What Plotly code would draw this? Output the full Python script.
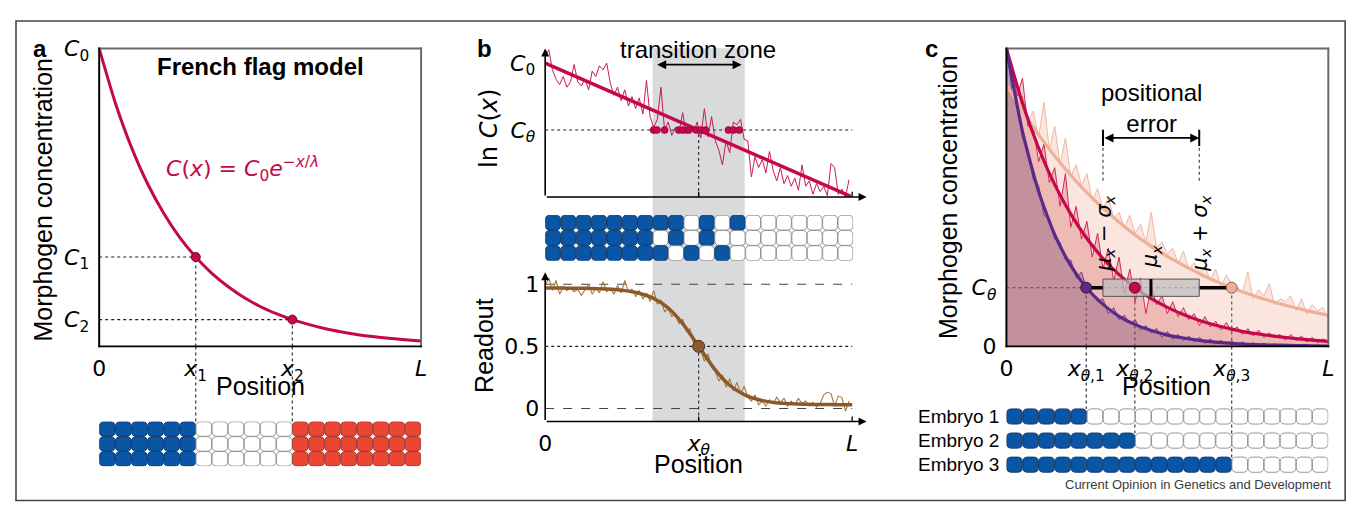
import numpy as np
import plotly.graph_objects as go

W, H = 1357, 516
SHIFT = 8.0   # the page body margin offsets the figure by 8 px; layout is expressed in screen px
TXT = 'Liberation Sans, Arial, Helvetica, sans-serif'
MATH = 'DejaVu Sans, sans-serif'
CRIMSON = '#c4084c'
BROWN = '#8c5a2a'
PURPLE = '#5b2a86'
BEIGE = '#edb098'

# ---------------- data ----------------
grid21 = [0.0, 0.05, 0.1, 0.15, 0.2, 0.25, 0.3, 0.35, 0.4, 0.45, 0.5,
          0.55, 0.6, 0.65, 0.7, 0.75, 0.8, 0.85, 0.9, 0.95, 1.0]

# Panel a : French flag model
a_concentration = [1.0, 0.818, 0.669, 0.547, 0.448, 0.366, 0.300, 0.245, 0.201, 0.164, 0.134,
                   0.110, 0.090, 0.074, 0.060, 0.049, 0.040, 0.033, 0.027, 0.022, 0.018]
a_threshold_x = [0.3, 0.6]
a_threshold_c = [0.30, 0.09]
a_xtick_vals = [0.0, 0.3, 0.6, 1.0]
a_xtick_text = ['0', '<i>x</i><sub>1</sub>', '<i>x</i><sub>2</sub>', '<i>L</i>']
a_ytick_vals = [1.0, 0.30, 0.09]
a_ytick_text = ['<i>C</i><sub>0</sub>', '<i>C</i><sub>1</sub>', '<i>C</i><sub>2</sub>']
a_cells = ['BBBBBBWWWWWWRRRRRRRR'] * 3

# Panel b : transition zone
b_fit_x = [0.0, 0.995]
b_fit_lnc = [1.0, 0.005]
b_noisy_lnc = [1.05, 1.10, 0.95, 0.88, 0.84, 0.90, 0.82, 0.86, 0.99, 0.86,
               0.83, 0.88, 0.80, 0.94, 0.90, 0.98, 0.95, 1.00, 0.85, 0.76,
               0.82, 0.72, 0.80, 0.68, 0.75, 0.66, 0.74, 0.62, 0.87, 0.60,
               0.52, 0.58, 0.82, 0.50, 0.56, 0.46, 0.52, 0.48, 0.63, 0.47,
               0.54, 0.48, 0.56, 0.44, 0.66, 0.45, 0.60, 0.42, 0.35, 0.24,
               0.42, 0.33, 0.56, 0.54, 0.58, 0.43, 0.42, 0.15, 0.30, 0.22,
               0.28, 0.18, 0.34, 0.20, 0.12, 0.22, 0.10, 0.16, 0.08, 0.14,
               0.05, 0.24, 0.08, 0.12, 0.02, 0.10, 0.04, 0.08, 0.01, 0.25,
               0.22, 0.02, 0.06, 0.00, 0.13]
b_crossings = [0.353, 0.364, 0.389, 0.435, 0.449, 0.468, 0.493, 0.507, 0.522, 0.597, 0.613, 0.632]
b_c_theta = 0.5
b_x_theta = 0.5
b_zone = [0.35, 0.65]
b_ytick_vals = [1.0, 0.5]
b_ytick_text = ['<i>C</i><sub>0</sub>', '<i>C</i><sub><i>θ</i></sub>']
b_cells = ['BBBBBBBBBWBWBWWWWWWW',
           'BBBBBBBWBWBWWWWWWWWW',
           'BBBBBBBBWBWBWWWWWWWW']
b_readout_fit = [0.970, 0.969, 0.968, 0.966, 0.962, 0.952, 0.932, 0.890, 0.811, 0.677, 0.500,
                 0.323, 0.189, 0.110, 0.068, 0.047, 0.038, 0.034, 0.032, 0.031, 0.030]
b_readout_noisy = [0.99, 1.05, 0.95, 1.03, 0.92, 0.98, 0.95, 0.97, 0.94, 0.96,
                   0.91, 0.95, 1.00, 0.92, 0.97, 0.93, 1.02, 0.94, 0.97, 0.92,
                   0.99, 0.93, 1.03, 0.94, 0.96, 0.90, 0.95, 0.88, 0.93, 0.86,
                   0.95, 0.84, 0.87, 0.78, 0.80, 0.74, 0.76, 0.68, 0.72, 0.62,
                   0.64, 0.53, 0.52, 0.47, 0.38, 0.44, 0.33, 0.30, 0.22, 0.27,
                   0.17, 0.24, 0.14, 0.21, 0.12, 0.18, 0.09, 0.06, 0.11, 0.03,
                   0.06, 0.02, 0.07, 0.04, 0.09, 0.05, 0.08, 0.02, 0.06, 0.03,
                   0.08, 0.04, 0.06, 0.02, 0.05, 0.01, 0.04, 0.11, 0.13, 0.12,
                   0.02, 0.10, 0.09, -0.02, 0.06]
b_readout_ticks = [0.0, 0.5, 1.0]
b_readout_ticktext = ['0', '0.5', '1']
b_xtick_vals = [0.0, 0.5, 1.0]
b_xtick_text = ['0', '<i>x</i><sub><i>θ</i></sub>', '<i>L</i>']

# Panel c : positional error
c_fit_purple = [1.0, 0.721, 0.520, 0.375, 0.271, 0.195, 0.141, 0.101, 0.073, 0.053, 0.038,
                0.028, 0.020, 0.014, 0.010, 0.007, 0.005, 0.004, 0.003, 0.002, 0.001]
c_fit_red = [1.0, 0.816, 0.666, 0.543, 0.444, 0.362, 0.295, 0.241, 0.197, 0.160, 0.131,
             0.107, 0.087, 0.071, 0.058, 0.047, 0.039, 0.032, 0.026, 0.021, 0.017]
c_fit_beige = [0.880, 0.791, 0.711, 0.639, 0.574, 0.516, 0.464, 0.417, 0.374, 0.336, 0.302,
               0.272, 0.244, 0.219, 0.197, 0.177, 0.159, 0.143, 0.129, 0.116, 0.104]
c_noisy_purple = [1.02, 0.86, 0.83, 0.70, 0.66, 0.56, 0.54, 0.44, 0.43, 0.36,
                  0.35, 0.29, 0.29, 0.23, 0.25, 0.19, 0.18, 0.15, 0.16, 0.11,
                  0.13, 0.09, 0.105, 0.075, 0.09, 0.055, 0.07, 0.045, 0.06, 0.03,
                  0.05, 0.025, 0.04, 0.02, 0.035, 0.015, 0.03, 0.01, 0.025, 0.008,
                  0.02, 0.005, 0.018, 0.004, 0.015, 0.003, 0.012, 0.002, 0.01, 0.002,
                  0.008, 0.001, 0.007, 0.001, 0.006, 0.0, 0.005, 0.0, 0.004, 0.0, 0.003]
c_noisy_red = [1.0, 0.95, 0.84, 0.90, 0.74, 0.74, 0.62, 0.68, 0.55, 0.60,
               0.47, 0.58, 0.40, 0.47, 0.36, 0.42, 0.30, 0.38, 0.26, 0.33,
               0.22, 0.30, 0.18, 0.26, 0.15, 0.23, 0.11, 0.20, 0.14, 0.17,
               0.11, 0.15, 0.10, 0.13, 0.09, 0.11, 0.07, 0.10, 0.065, 0.085,
               0.055, 0.08, 0.05, 0.065, 0.04, 0.06, 0.035, 0.055, 0.03, 0.045,
               0.03, 0.04, 0.02, 0.04, 0.02, 0.035, 0.015, 0.03, 0.012, 0.025, 0.015]
c_noisy_beige = [0.84, 0.86, 0.79, 0.84, 0.76, 0.79, 0.70, 0.82, 0.66, 0.74,
                 0.61, 0.70, 0.57, 0.61, 0.54, 0.58, 0.49, 0.53, 0.46, 0.50,
                 0.43, 0.45, 0.40, 0.44, 0.38, 0.41, 0.35, 0.45, 0.33, 0.35,
                 0.31, 0.33, 0.28, 0.32, 0.26, 0.28, 0.25, 0.27, 0.22, 0.26,
                 0.20, 0.24, 0.21, 0.20, 0.18, 0.25, 0.16, 0.19, 0.17, 0.21,
                 0.14, 0.16, 0.15, 0.17, 0.12, 0.16, 0.11, 0.14, 0.12, 0.13, 0.09]
c_x_theta = [0.248, 0.399, 0.700]
c_c_theta = 0.197
c_q1, c_median, c_q3 = 0.300, 0.449, 0.599
c_embryo_blue = [5, 8, 14]
c_embryo_names = ['Embryo 1', 'Embryo 2', 'Embryo 3']
c_xtick_vals = [0.0, 0.248, 0.399, 0.700, 1.0]
c_xtick_text = ['0', '<i>x</i><sub><i>θ</i>,1</sub>', '<i>x</i><sub><i>θ</i>,2</sub>',
                '<i>x</i><sub><i>θ</i>,3</sub>', '<i>L</i>']
c_ytick_vals = [0.0, 0.197]
c_ytick_text = ['0', '<i>C</i><sub><i>θ</i></sub>']


# ---------------- layout helpers (screen px -> paper) ----------------
def px(p):
    return (p - SHIFT) / W


def py(p):
    return 1 - (p - SHIFT) / H


def xdom(l, r):
    return [px(l), px(r)]


def ydom(top, bot):
    return [py(bot), py(top)]


def rounded_rect(x0, x1, y0, y1, rx, ry):
    return (f"M {x0 + rx},{y0} L {x1 - rx},{y0} Q {x1},{y0} {x1},{y0 + ry} "
            f"L {x1},{y1 - ry} Q {x1},{y1} {x1 - rx},{y1} L {x0 + rx},{y1} "
            f"Q {x0},{y1} {x0},{y1 - ry} L {x0},{y0 + ry} Q {x0},{y0} {x0 + rx},{y0} Z")


CELL_STYLE = {'B': ('#0a56a5', '#103766'), 'W': ('#ffffff', '#8a8a8a'), 'R': ('#ee4433', '#8c3a30')}


def cell_shapes(rows, xref, yref, centers, h, rx, ry, w=0.97):
    out = []
    for row, yc in zip(rows, centers):
        for c, k in enumerate(row):
            fill, line = CELL_STYLE[k]
            x0, x1 = c + (1 - w) / 2, c + 1 - (1 - w) / 2
            y0, y1 = yc - h / 2, yc + h / 2
            out.append(dict(type='path', xref=xref, yref=yref,
                            path=rounded_rect(x0, x1, y0, y1, rx, ry),
                            fillcolor=fill, line=dict(color=line, width=0.9), layer='above'))
    return out


def seg(x0, y0, x1, y1, xref, yref, color='#222', width=1.1, dash='dot', layer='above'):
    return dict(type='line', x0=x0, y0=y0, x1=x1, y1=y1, xref=xref, yref=yref,
                line=dict(color=color, width=width, dash=dash), layer=layer)


def bar(l, t, r, b, color):
    """A thin filled rectangle in screen px (used for the panel frames)."""
    return dict(type='rect', xref='paper', yref='paper', x0=px(l), x1=px(r), y0=py(b), y1=py(t),
                fillcolor=color, line=dict(width=0), layer='above')


# screen-pixel geometry
A_X = (93.0, 418.0); A_Y = (38.0, 351.0); A_CELLS_Y = (430.0, 477.0)
B_X = (543.3, 870.0); B_LN_Y = (36.0, 194.0); B_CELLS_X = (543.3, 854.3)
B_CELLS_Y = (213.0, 261.0); B_RO_Y = (271.0, 430.0)
C_X = (1009.0, 1334.0); C_Y = (38.0, 351.0); C_CELLS_Y = (412.0, 488.0)
C_ROW_TOPS = [416.7, 442.3, 467.7]

fig = go.Figure()

# ---------------- traces: panel a ----------------
fig.add_trace(go.Scatter(x=grid21, y=a_concentration, mode='lines',
                         line=dict(color=CRIMSON, width=3, shape='spline', smoothing=0.6),
                         xaxis='x', yaxis='y', hoverinfo='skip', cliponaxis=False))
fig.add_trace(go.Scatter(x=a_threshold_x, y=a_threshold_c, mode='markers',
                         marker=dict(size=9, color=CRIMSON, line=dict(color='#7a0030', width=1)),
                         xaxis='x', yaxis='y', hoverinfo='skip'))

# ---------------- traces: panel b ----------------
bx_noisy = np.linspace(0, 0.99, len(b_noisy_lnc))
fig.add_trace(go.Scatter(x=bx_noisy, y=b_noisy_lnc, mode='lines',
                         line=dict(color='#c81a55', width=1), xaxis='x3', yaxis='y3', hoverinfo='skip'))
fig.add_trace(go.Scatter(x=b_fit_x, y=b_fit_lnc, mode='lines',
                         line=dict(color=CRIMSON, width=3.5), xaxis='x3', yaxis='y3', hoverinfo='skip'))
fig.add_trace(go.Scatter(x=b_crossings, y=[b_c_theta] * len(b_crossings), mode='markers',
                         marker=dict(size=7, color=CRIMSON, line=dict(color='#8a0034', width=0.6)),
                         xaxis='x3', yaxis='y3', hoverinfo='skip'))
rx_noisy = np.linspace(0, 0.99, len(b_readout_noisy))
fig.add_trace(go.Scatter(x=rx_noisy, y=b_readout_noisy, mode='lines',
                         line=dict(color='#a8763f', width=1.1), xaxis='x5', yaxis='y5', hoverinfo='skip'))
fig.add_trace(go.Scatter(x=grid21, y=b_readout_fit, mode='lines',
                         line=dict(color=BROWN, width=3.5, shape='spline', smoothing=0.6),
                         xaxis='x5', yaxis='y5', hoverinfo='skip'))
fig.add_trace(go.Scatter(x=[b_x_theta], y=[0.5], mode='markers',
                         marker=dict(size=12, color='#8d5b33', line=dict(color='#4a2e17', width=1)),
                         xaxis='x5', yaxis='y5', hoverinfo='skip'))

# ---------------- traces: panel c ----------------
cx_noisy = np.linspace(0, 1, len(c_noisy_beige))
for vals, fillc, linec in [(c_noisy_beige, 'rgba(236,165,140,0.28)', '#f0b6a0'),
                           (c_noisy_red, 'rgba(195,45,50,0.24)', '#d0285a'),
                           (c_noisy_purple, 'rgba(100,50,105,0.30)', '#6e3f9a')]:
    fig.add_trace(go.Scatter(x=cx_noisy, y=vals, mode='lines', fill='tozeroy', fillcolor=fillc,
                             line=dict(color=linec, width=1), xaxis='x6', yaxis='y6', hoverinfo='skip'))
for vals, col in [(c_fit_beige, BEIGE), (c_fit_red, CRIMSON), (c_fit_purple, PURPLE)]:
    fig.add_trace(go.Scatter(x=grid21, y=vals, mode='lines',
                             line=dict(color=col, width=3.2, shape='spline', smoothing=0.6),
                             xaxis='x6', yaxis='y6', hoverinfo='skip'))
fig.add_trace(go.Scatter(x=[c_x_theta[0], c_q1, None, c_q3, c_x_theta[2]],
                         y=[c_c_theta, c_c_theta, None, c_c_theta, c_c_theta], mode='lines',
                         line=dict(color='black', width=3.5), xaxis='x6', yaxis='y6', hoverinfo='skip'))
bh = 0.029
fig.add_trace(go.Scatter(x=[c_q1, c_q3, c_q3, c_q1, c_q1],
                         y=[c_c_theta - bh, c_c_theta - bh, c_c_theta + bh, c_c_theta + bh, c_c_theta - bh],
                         mode='lines', fill='toself', fillcolor='rgba(190,188,188,0.72)',
                         line=dict(color='#555555', width=1), xaxis='x6', yaxis='y6', hoverinfo='skip'))
fig.add_trace(go.Scatter(x=[c_median, c_median], y=[c_c_theta - bh, c_c_theta + bh], mode='lines',
                         line=dict(color='black', width=3), xaxis='x6', yaxis='y6', hoverinfo='skip'))
fig.add_trace(go.Scatter(x=c_x_theta, y=[c_c_theta] * 3, mode='markers',
                         marker=dict(size=11, color=['#5e2a84', CRIMSON, '#eeae98'],
                                     line=dict(color=['#2e1048', '#6a0028', '#8a6050'], width=1)),
                         xaxis='x6', yaxis='y6', hoverinfo='skip'))

# ---------------- shapes ----------------
shapes = []
shapes.append(dict(type='rect', xref='x3', yref='paper', x0=b_zone[0], x1=b_zone[1],
                   y0=py(430.0), y1=py(37.7), fillcolor='#d9dadc', line=dict(width=0), layer='below'))
for xv, cv in zip(a_threshold_x, a_threshold_c):
    shapes.append(seg(0, cv, xv, cv, 'x', 'y', layer='below'))
    shapes.append(seg(xv, 0, xv, cv, 'x', 'y', layer='below'))
    shapes.append(seg(xv, py(A_Y[1]), xv, py(A_CELLS_Y[0]), 'x', 'paper'))
shapes.append(seg(0, b_c_theta, 1.0, b_c_theta, 'x3', 'y3', layer='below'))
shapes.append(seg(b_x_theta, 0, b_x_theta, b_c_theta, 'x3', 'y3', layer='below'))
shapes.append(seg(0, 1, 1.0, 1, 'x5', 'y5', color='#444', width=1.2, dash='dash', layer='below'))
shapes.append(seg(0, 0, 1.0, 0, 'x5', 'y5', color='#444', width=1.2, dash='dash', layer='below'))
shapes.append(seg(0, 0.5, 1.0, 0.5, 'x5', 'y5', layer='below'))
shapes.append(seg(b_x_theta, -0.105, b_x_theta, 0.5, 'x5', 'y5', layer='below'))
for xv in [b_x_theta, 1.0]:
    shapes.append(seg(xv, 0, xv, 0.04, 'x3', 'y3', color='black', width=1.3, dash='solid'))
    shapes.append(seg(xv, -0.105, xv, -0.065, 'x5', 'y5', color='black', width=1.3, dash='solid'))
shapes.append(seg(0, c_c_theta, c_x_theta[2], c_c_theta, 'x6', 'y6', layer='below'))
for xv, top in zip(c_x_theta, C_ROW_TOPS):
    shapes.append(seg(xv, 0, xv, c_c_theta, 'x6', 'y6', layer='below'))
    shapes.append(seg(xv, py(C_Y[1]), xv, py(top), 'x6', 'paper'))
for xv in [c_q1, c_q3]:
    shapes.append(seg(xv, 0.556, xv, 0.70, 'x6', 'y6', width=1))
    shapes.append(seg(xv, 0.673, xv, 0.727, 'x6', 'y6', color='black', width=2, dash='solid'))
shapes += cell_shapes(a_cells, 'x2', 'y2', [2.5, 1.5, 0.5], 0.98, 0.3, 0.31)
shapes += cell_shapes(b_cells, 'x4', 'y4', [2.5, 1.5, 0.5], 0.98, 0.3, 0.29)
c_rows = ['B' * n + 'W' * (20 - n) for n in c_embryo_blue]
shapes += cell_shapes(c_rows, 'x7', 'y7', [2, 1, 0], 0.63, 0.3, 0.19)
# panel frames as thin filled bars: grey top/right, black left/bottom
for (l, r), (t, b) in [(A_X, A_Y), (C_X, C_Y)]:
    shapes.append(bar(l - 1, t - 1, r + 1, t + 1, '#6a6a6a'))
    shapes.append(bar(r - 1, t - 1, r + 1, b + 1, '#6a6a6a'))
    shapes.append(bar(l - 1, t - 1, l + 1, b + 1, '#000000'))
    shapes.append(bar(l - 1, b - 1, r + 1, b + 1, '#000000'))
# outer frame (kept just inside the visible area)
shapes.append(dict(type='rect', xref='paper', yref='paper', x0=px(9), x1=px(1351), y0=py(513), y1=py(9),
                   line=dict(color='#444444', width=1.6), fillcolor='rgba(0,0,0,0)'))

# ---------------- annotations ----------------
ann = []


def text(t, x, y, size=25, family=TXT, angle=0, color='black', xanchor='center', xref='paper',
         yref='paper', yanchor='middle'):
    xx = px(x) if xref == 'paper' else x
    yy = py(y) if yref == 'paper' else y
    ann.append(dict(text=t, x=xx, y=yy, xref=xref, yref=yref, showarrow=False, textangle=angle,
                    xanchor=xanchor, yanchor=yanchor, font=dict(family=family, size=size, color=color)))


def arrow(x, y, ax_, ay_, xref, yref, both=False, width=1.6):
    d = dict(text='', x=x, y=y, ax=ax_, ay=ay_, xref=xref, yref=yref, axref=xref, ayref=yref,
             showarrow=True, arrowhead=2, arrowsize=1, arrowwidth=width, arrowcolor='black')
    if both:
        d.update(arrowside='end+start', startarrowhead=2, startarrowsize=1)
    ann.append(d)


text('<b>a</b>', 33, 38, size=24)
text('<b>b</b>', 482, 38, size=24)
text('<b>c</b>', 933, 38, size=24)
text('<b>French flag model</b>', 255.7, 57, size=24)
text('<i>C</i>(<i>x</i>) = <i>C</i><sub>0</sub><i>e</i><sup>−<i>x</i>/<i>λ</i></sup>', 238, 165,
     size=22, family=MATH, color=CRIMSON)
text('Morphogen concentration', 36, 197, angle=-90)
text('Position', 255.7, 393)
text('ln <i>C</i>(<i>x</i>)', 487, 122, family=MATH, angle=-90, size=24)
text('Readout', 482, 350, angle=-90)
text('Position', 698, 475)
text('transition zone', 698, 39, size=24)
text('Morphogen concentration', 950, 194, angle=-90)
text('Position', 1171, 393)
text('positional<br>error', 1155, 100, size=24)
text('<i>μ</i><sub><i>x</i></sub> − <i>σ</i><sub><i>x</i></sub>', 0.304, 0.379, size=21, family=MATH,
     angle=-90, xref='x6', yref='y6')
text('<i>μ</i><sub><i>x</i></sub>', 0.452, 0.302, size=21, family=MATH, angle=-90, xref='x6', yref='y6')
text('<i>μ</i><sub><i>x</i></sub> + <i>σ</i><sub><i>x</i></sub>', 0.602, 0.379, size=21, family=MATH,
     angle=-90, xref='x6', yref='y6')
for name, yc in zip(c_embryo_names, [424.7, 450.3, 475.5]):
    text(name, 1004, yc, size=19, xanchor='right')
text('Current Opinion in Genetics and Development', 1339, 496, size=13, color='#3a3a3a', xanchor='right')

arrow(1.047, 0, 0, 0, 'x3', 'y3')
arrow(0, 1.109, 0, 0, 'x3', 'y3')
arrow(1.047, -0.105, 0, -0.105, 'x5', 'y5')
arrow(0, 1.097, 0, -0.105, 'x5', 'y5')
arrow(0.64, 0.988, 0.36, 0.988, 'x3', 'y3', both=True, width=1.8)
arrow(c_q3, 0.70, c_q1, 0.70, 'x6', 'y6', both=True, width=1.8)

# ---------------- axes ----------------
tickfont = dict(family=MATH, size=22, color='black')
hidden = dict(visible=False, showgrid=False, zeroline=False, fixedrange=True)


def main_axis(domain, rng, anchor, vals, texts, standoff, **kw):
    d = dict(domain=domain, range=rng, anchor=anchor, showgrid=False, zeroline=False,
             showline=False, tickmode='array', tickvals=vals,
             ticktext=texts, ticks='', tickfont=tickfont, ticklabelstandoff=standoff, tickangle=0,
             fixedrange=True)
    d.update(kw)
    return d


fig.update_layout(
    width=W, height=H, margin=dict(l=0, r=0, t=0, b=0), showlegend=False,
    paper_bgcolor='white', plot_bgcolor='rgba(0,0,0,0)',
    xaxis=main_axis(xdom(*A_X), [0, 1], 'y', a_xtick_vals, a_xtick_text, 7),
    yaxis=main_axis(ydom(*A_Y), [0, 1], 'x', a_ytick_vals, a_ytick_text, 9),
    xaxis2=dict(hidden, domain=xdom(*A_X), range=[0, 20], anchor='y2'),
    yaxis2=dict(hidden, domain=ydom(*A_CELLS_Y), range=[0, 3], anchor='x2'),
    xaxis3=main_axis(xdom(*B_X), [0, 1.054], 'y3', [], [], 0, showticklabels=False),
    yaxis3=main_axis(ydom(*B_LN_Y), [0, 1.123], 'x3', b_ytick_vals, b_ytick_text, 9),
    xaxis4=dict(hidden, domain=xdom(*B_CELLS_X), range=[0, 20], anchor='y4'),
    yaxis4=dict(hidden, domain=ydom(*B_CELLS_Y), range=[0, 3], anchor='x4'),
    xaxis5=main_axis(xdom(*B_X), [0, 1.054], 'y5', b_xtick_vals, b_xtick_text, 6),
    yaxis5=main_axis(ydom(*B_RO_Y), [-0.105, 1.1125], 'x5', b_readout_ticks, b_readout_ticktext, 5),
    xaxis6=main_axis(xdom(*C_X), [0, 1], 'y6', c_xtick_vals, c_xtick_text, 7),
    yaxis6=main_axis(ydom(*C_Y), [0, 1], 'x6', c_ytick_vals, c_ytick_text, 9),
    xaxis7=dict(hidden, domain=xdom(*C_X), range=[0, 20], anchor='y7'),
    yaxis7=dict(hidden, domain=ydom(*C_CELLS_Y), range=[-0.5, 2.5], anchor='x7'),
    shapes=shapes, annotations=ann,
)

fig.write_html("out.html", config={'displayModeBar': False})
